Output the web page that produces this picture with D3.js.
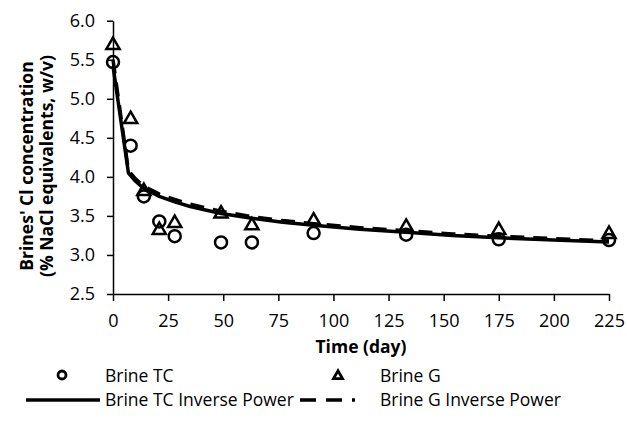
<!DOCTYPE html>
<html>
<head>
<meta charset="utf-8">
<script src="https://d3js.org/d3.v7.min.js"></script>
<style>
body { margin: 0; background: #fff; }
text { font-family: "Open Sans", sans-serif; fill: #000; }
</style>
</head>
<body>
<div id="chart"></div>
<script>
// measured data (days)
var days = [0, 8, 14, 21, 28, 49, 63, 91, 133, 175, 225];
var brineTC = [5.47, 4.40, 3.75, 3.43, 3.24, 3.16, 3.16, 3.28, 3.26, 3.20, 3.19];
var brineG = [5.70, 4.75, 3.83, 3.33, 3.42, 3.54, 3.39, 3.45, 3.37, 3.33, 3.28];

// fitted inverse power curves
var fitDays = [0, 7, 10, 14, 21, 28, 35, 49, 63, 77, 91, 112, 133, 154, 175, 200, 225];
var fitTC = [5.42, 4.05, 3.95, 3.85, 3.75, 3.68, 3.62, 3.53, 3.47, 3.42, 3.38, 3.33, 3.29, 3.25, 3.22, 3.19, 3.165];
var fitG = [5.50, 4.08, 3.98, 3.88, 3.78, 3.71, 3.65, 3.56, 3.49, 3.44, 3.40, 3.35, 3.31, 3.27, 3.24, 3.21, 3.18];

var xTicks = [0, 25, 50, 75, 100, 125, 150, 175, 200, 225];
var yTicks = [2.5, 3.0, 3.5, 4.0, 4.5, 5.0, 5.5, 6.0];

var width = 627, height = 421;
var svg = d3.select("#chart").append("svg")
    .attr("width", width)
    .attr("height", height);

var x = d3.scaleLinear().domain([0, 225]).range([113, 609]);
var y = d3.scaleLinear().domain([2.5, 6.0]).range([294, 20.7]);

// axes
svg.append("g")
    .attr("transform", "translate(0," + y(2.5) + ")")
    .call(d3.axisBottom(x).tickValues(xTicks).tickSize(7).tickPadding(13).tickSizeOuter(0));
svg.append("g")
    .attr("transform", "translate(" + x(0) + ",0)")
    .call(d3.axisLeft(y).tickValues(yTicks).tickSize(6).tickPadding(12).tickSizeOuter(0)
        .tickFormat(d3.format(".1f")));

svg.selectAll(".domain, .tick line")
    .attr("stroke", "#000")
    .attr("stroke-width", 1.5);
svg.selectAll(".tick text")
    .style("font-size", "18px")
    .style("font-family", "'Open Sans', sans-serif")
    .attr("fill", "#000");

// fitted lines
var line = d3.line()
    .x(function(d) { return x(d[0]); })
    .y(function(d) { return y(d[1]); });

svg.append("path")
    .datum(fitDays.map(function(d, i) { return [d, fitG[i]]; }))
    .attr("d", line)
    .attr("fill", "none")
    .attr("stroke", "#000")
    .attr("stroke-width", 3.5)
    .attr("stroke-dasharray", "14,9");

svg.append("path")
    .datum(fitDays.map(function(d, i) { return [d, fitTC[i]]; }))
    .attr("d", line)
    .attr("fill", "none")
    .attr("stroke", "#000")
    .attr("stroke-width", 3.5);

// markers
var tri = d3.symbol().type(d3.symbolTriangle).size(75);

svg.append("g").selectAll("path")
    .data(days.map(function(d, i) { return [d, brineG[i]]; }))
    .enter()
    .append("path")
    .attr("d", tri)
    .attr("transform", function(d) { return "translate(" + x(d[0]) + "," + (y(d[1]) + 1) + ")"; })
    .attr("fill", "none")
    .attr("stroke", "#000")
    .attr("stroke-width", 2.5);

svg.append("g").selectAll("circle")
    .data(days.map(function(d, i) { return [d, brineTC[i]]; }))
    .enter()
    .append("circle")
    .attr("cx", function(d) { return x(d[0]); })
    .attr("cy", function(d) { return y(d[1]); })
    .attr("r", 6)
    .attr("fill", "none")
    .attr("stroke", "#000")
    .attr("stroke-width", 2.5);

// axis titles
svg.append("text")
    .attr("x", 361)
    .attr("y", 353)
    .attr("text-anchor", "middle")
    .style("font-size", "17.5px")
    .style("font-weight", "bold")
    .text("Time (day)");

var yTitle = svg.append("text")
    .attr("transform", "translate(0,166) rotate(-90)")
    .attr("text-anchor", "middle")
    .style("font-size", "17.5px")
    .style("font-weight", "bold");
yTitle.append("tspan").attr("x", 0).attr("y", 33).text("Brines' Cl concentration");
yTitle.append("tspan").attr("x", 0).attr("y", 53).text("(% NaCl equivalents, w/v)");

// legend
var legend = svg.append("g");
legend.append("circle")
    .attr("cx", 62).attr("cy", 375).attr("r", 4)
    .attr("fill", "none").attr("stroke", "#000").attr("stroke-width", 2.8);
legend.append("path")
    .attr("d", d3.symbol().type(d3.symbolTriangle).size(35))
    .attr("transform", "translate(338,376)")
    .attr("fill", "none").attr("stroke", "#000").attr("stroke-width", 2.8);
legend.append("line")
    .attr("x1", 26).attr("x2", 100).attr("y1", 400).attr("y2", 400)
    .attr("stroke", "#000").attr("stroke-width", 3.5);
legend.append("line")
    .attr("x1", 300).attr("x2", 375).attr("y1", 400).attr("y2", 400)
    .attr("stroke", "#000").attr("stroke-width", 3.5)
    .attr("stroke-dasharray", "16,10,16,10,3,20");

var legendText = [["Brine TC", 105, 382], ["Brine G", 380, 382],
    ["Brine TC Inverse Power", 105, 406], ["Brine G Inverse Power", 380, 406]];
legend.selectAll("text")
    .data(legendText)
    .enter()
    .append("text")
    .attr("x", function(d) { return d[1]; })
    .attr("y", function(d) { return d[2]; })
    .style("font-size", "17.5px")
    .text(function(d) { return d[0]; });
</script>
</body>
</html>
